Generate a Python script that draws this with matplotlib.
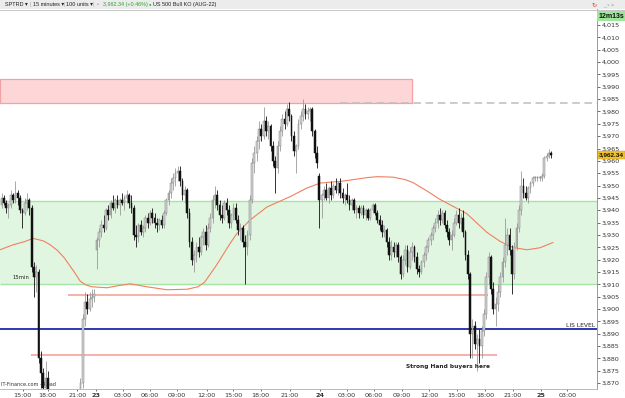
import numpy as np
import matplotlib.pyplot as plt
from matplotlib.patches import Rectangle

# 15 minute candles, SPTRD (US 500), index 0 = first bar on screen
opens = [
    3942, 3945, 3943, 3941, 3942, 3946, 3944, 3947, 3945, 3940, 3939, 3943, 3944, 3941, 3917, 3913, 3915, 3880, 3874, 3868,
    3872, 3866, 3862, 3858, 3855, 3857, 3852, 3850, 3853, 3856, 3854, 3858, 3860, 3857, 3862, 3870, 3896, 3903, 3900, 3904,
    3905, 3924, 3928, 3931, 3934, 3933, 3940, 3938, 3943, 3941, 3944, 3942, 3944, 3943, 3945, 3946, 3943, 3941, 3930, 3929,
    3934, 3931, 3933, 3937, 3935, 3939, 3937, 3935, 3934, 3936, 3934, 3939, 3944, 3947, 3951, 3953, 3955, 3956, 3952, 3946,
    3948, 3939, 3927, 3920, 3922, 3925, 3923, 3929, 3931, 3926, 3933, 3937, 3944, 3946, 3942, 3938, 3937, 3943, 3940, 3935,
    3938, 3941, 3936, 3932, 3933, 3927, 3925, 3930, 3944, 3959, 3963, 3968, 3973, 3970, 3976, 3972, 3974, 3966, 3960, 3957,
    3966, 3972, 3977, 3975, 3981, 3978, 3970, 3964, 3966, 3975, 3978, 3981, 3979, 3980, 3981, 3972, 3963, 3954, 3944, 3946,
    3948, 3945, 3949, 3946, 3950, 3948, 3951, 3947, 3945, 3946, 3944, 3942, 3944, 3940, 3941, 3939, 3941, 3938, 3940, 3937,
    3940, 3942, 3939, 3936, 3934, 3931, 3932, 3927, 3922, 3925, 3923, 3926, 3921, 3914, 3920, 3924, 3917, 3923, 3925, 3921,
    3916, 3915, 3919, 3922, 3925, 3928, 3930, 3933, 3935, 3938, 3936, 3939, 3934, 3931, 3928, 3930, 3935, 3938, 3935, 3937,
    3931, 3922, 3914, 3890, 3893, 3886, 3888, 3885, 3891, 3898, 3913, 3921, 3908, 3900, 3902, 3907, 3913, 3919, 3926, 3930,
    3924, 3914, 3925, 3933, 3940, 3950, 3947, 3945, 3949, 3951, 3953, 3953, 3953, 3953, 3954, 3961, 3962, 3963,
]
highs = [
    3947, 3946, 3944, 3943, 3948, 3947, 3952, 3948, 3946, 3941, 3945, 3947, 3945, 3942, 3919, 3918, 3916, 3883, 3876, 3879,
    3875, 3867, 3863, 3860, 3860, 3858, 3855, 3856, 3860, 3859, 3862, 3864, 3862, 3865, 3872, 3898, 3907, 3906, 3907, 3908,
    3908, 3929, 3933, 3936, 3938, 3941, 3942, 3944, 3946, 3945, 3946, 3945, 3947, 3946, 3948, 3947, 3946, 3942, 3934, 3935,
    3936, 3934, 3938, 3939, 3940, 3941, 3939, 3937, 3937, 3938, 3940, 3945, 3948, 3953, 3955, 3957, 3958, 3958, 3953, 3950,
    3949, 3941, 3929, 3924, 3927, 3929, 3930, 3933, 3934, 3935, 3939, 3946, 3950, 3948, 3944, 3942, 3944, 3945, 3942, 3939,
    3943, 3943, 3938, 3935, 3934, 3930, 3932, 3946, 3961, 3966, 3970, 3976, 3975, 3982, 3978, 3976, 3975, 3968, 3962, 3968,
    3974, 3979, 3980, 3983, 3984, 3979, 3972, 3967, 3977, 3980, 3985, 3983, 3982, 3982, 3982, 3973, 3966, 3955, 3947, 3950,
    3951, 3950, 3952, 3951, 3953, 3952, 3953, 3949, 3947, 3951, 3946, 3945, 3945, 3942, 3942, 3942, 3942, 3941, 3941, 3941,
    3943, 3943, 3940, 3938, 3936, 3934, 3933, 3929, 3928, 3927, 3927, 3927, 3922, 3922, 3926, 3926, 3925, 3927, 3926, 3923,
    3918, 3920, 3923, 3926, 3929, 3931, 3934, 3937, 3940, 3941, 3940, 3940, 3936, 3933, 3932, 3937, 3940, 3941, 3939, 3940,
    3932, 3924, 3915, 3896, 3895, 3890, 3892, 3893, 3900, 3915, 3923, 3922, 3911, 3905, 3910, 3915, 3921, 3937, 3933, 3933,
    3926, 3927, 3935, 3942, 3956, 3953, 3950, 3950, 3952, 3954, 3954, 3954, 3954, 3955, 3962, 3963, 3965, 3964,
]
lows = [
    3941, 3942, 3939, 3937, 3941, 3943, 3943, 3942, 3939, 3933, 3938, 3940, 3938, 3915, 3905, 3907, 3878, 3868, 3862, 3864,
    3860, 3858, 3854, 3851, 3852, 3848, 3846, 3849, 3852, 3850, 3853, 3856, 3853, 3855, 3855, 3868, 3893, 3898, 3899, 3901,
    3903, 3916, 3925, 3929, 3931, 3932, 3936, 3937, 3940, 3939, 3941, 3938, 3942, 3940, 3943, 3941, 3939, 3928, 3925, 3927,
    3930, 3929, 3931, 3933, 3934, 3935, 3933, 3931, 3932, 3933, 3933, 3938, 3942, 3945, 3948, 3950, 3952, 3950, 3944, 3943,
    3937, 3925, 3918, 3915, 3919, 3921, 3922, 3926, 3924, 3925, 3931, 3935, 3941, 3940, 3936, 3935, 3936, 3938, 3933, 3933,
    3936, 3935, 3930, 3928, 3925, 3910, 3922, 3928, 3943, 3955, 3960, 3965, 3968, 3969, 3970, 3969, 3964, 3958, 3947, 3955,
    3964, 3970, 3973, 3974, 3976, 3968, 3962, 3955, 3965, 3973, 3976, 3977, 3977, 3976, 3970, 3961, 3957, 3933, 3937, 3944,
    3944, 3943, 3944, 3945, 3947, 3946, 3945, 3943, 3942, 3943, 3940, 3940, 3939, 3937, 3937, 3938, 3937, 3936, 3936, 3936,
    3939, 3938, 3935, 3932, 3929, 3929, 3925, 3920, 3920, 3921, 3921, 3919, 3912, 3913, 3918, 3915, 3916, 3920, 3919, 3914,
    3913, 3914, 3917, 3920, 3923, 3926, 3928, 3931, 3933, 3934, 3935, 3933, 3929, 3926, 3924, 3929, 3934, 3933, 3932, 3929,
    3920, 3912, 3880, 3880, 3884, 3875, 3878, 3880, 3889, 3896, 3910, 3906, 3898, 3893, 3899, 3905, 3911, 3917, 3922, 3922,
    3906, 3912, 3924, 3931, 3938, 3945, 3944, 3943, 3947, 3950, 3952, 3952, 3952, 3952, 3953, 3960, 3961, 3961,
]
closes = [
    3945, 3943, 3941, 3942, 3946, 3944, 3947, 3945, 3940, 3939, 3943, 3944, 3941, 3917, 3913, 3915, 3880, 3874, 3868, 3872,
    3866, 3862, 3858, 3855, 3857, 3852, 3850, 3853, 3856, 3854, 3858, 3860, 3857, 3862, 3870, 3896, 3903, 3900, 3904, 3905,
    3906, 3928, 3931, 3934, 3933, 3940, 3938, 3943, 3941, 3944, 3942, 3944, 3943, 3945, 3946, 3943, 3941, 3930, 3929, 3934,
    3931, 3933, 3937, 3935, 3939, 3937, 3935, 3934, 3936, 3934, 3939, 3944, 3947, 3951, 3953, 3955, 3956, 3952, 3946, 3948,
    3939, 3927, 3920, 3922, 3925, 3923, 3929, 3931, 3926, 3933, 3937, 3944, 3946, 3942, 3938, 3937, 3943, 3940, 3935, 3938,
    3941, 3936, 3932, 3933, 3927, 3925, 3930, 3944, 3959, 3963, 3968, 3973, 3970, 3976, 3972, 3974, 3966, 3960, 3957, 3966,
    3972, 3977, 3975, 3981, 3978, 3970, 3964, 3966, 3975, 3978, 3981, 3979, 3980, 3981, 3972, 3963, 3959, 3944, 3946, 3948,
    3945, 3949, 3946, 3950, 3948, 3951, 3947, 3945, 3946, 3944, 3942, 3944, 3940, 3941, 3939, 3941, 3938, 3940, 3937, 3940,
    3942, 3939, 3936, 3934, 3931, 3932, 3927, 3922, 3925, 3923, 3926, 3921, 3914, 3920, 3924, 3917, 3923, 3925, 3921, 3916,
    3915, 3919, 3922, 3925, 3928, 3930, 3933, 3935, 3938, 3936, 3939, 3934, 3931, 3928, 3930, 3935, 3938, 3935, 3937, 3931,
    3922, 3914, 3890, 3893, 3886, 3888, 3885, 3891, 3898, 3913, 3921, 3908, 3900, 3902, 3907, 3913, 3919, 3926, 3930, 3924,
    3914, 3925, 3933, 3940, 3950, 3947, 3945, 3949, 3951, 3953, 3953, 3953, 3953, 3954, 3961, 3962, 3963, 3962.34,
]

# moving average, read at a few bars
ma_x = [-0.6, 5, 10, 13.6, 18, 21, 24, 27, 31.5, 34, 36.5, 39, 45.5, 50, 55.4, 62.7, 71.3, 80, 84.7, 87.5,
        92.5, 98.5, 101.5, 107.1, 114.4, 124.4, 131.7, 137.3, 147.2, 157.5, 161.9, 168.8, 174, 177.4,
        183.4, 189, 194.6, 200.6, 206.3, 209.3, 214.9, 220.5, 226.5, 232.1, 237.7]
ma_y = [3924.0, 3926.0, 3927.3, 3928.6, 3927.6, 3926.0, 3923.8, 3920.8, 3914.8, 3911.2, 3909.7, 3909.0, 3908.6,
        3909.4, 3910.2, 3909.0, 3907.8, 3908.0, 3909.0, 3910.8, 3917.5, 3926.5, 3930.6, 3936.0, 3941.3, 3945.5,
        3949.0, 3951.0, 3951.8, 3953.2, 3953.6, 3953.4, 3952.4, 3951.2, 3947.8, 3944.4, 3941.6, 3938.6, 3933.6,
        3931.0, 3927.4, 3924.9, 3924.0, 3924.8, 3926.9]

# drawn levels
supply_zone = (3983.3, 3993.1)
demand_zone = (3910.2, 3943.9)
dashed_level = 3983.3
lis_level = 3891.9
level_a = 3905.5
level_b = 3881.3
last_price = 3962.34

tick_pos = [9.1, 19.9, 32.7, 40.7, 52.4, 64.0, 75.5, 88.4, 99.8, 111.7, 124.4, 137.3,
            148.8, 160.6, 172.5, 184.3, 196.2, 208.4, 220.3, 232.4, 243.9]
tick_lab = ['15:00', '18:00', '21:00', '23', '03:00', '06:00', '09:00', '12:00', '15:00', '18:00', '21:00', '24',
            '03:00', '06:00', '09:00', '12:00', '15:00', '18:00', '21:00', '25', '03:00']

assert len(opens) == len(highs) == len(lows) == len(closes)

W, H = 625, 398
NARROW = ['Liberation Sans', 'DejaVu Sans']
fig = plt.figure(figsize=(W / 100, H / 100), dpi=100)
ax = fig.add_axes([0, 9 / H, 597 / W, 380 / H])
x0, x1 = -0.65, 256.7
ax.set_xlim(x0, x1)
ax.set_ylim(3867.6, 4021.5)

# zones and levels
ax.add_patch(Rectangle((x0, demand_zone[0]), x1 - x0, demand_zone[1] - demand_zone[0],
                       fc='#e1f6e1', ec='none', zorder=0))
ax.hlines(demand_zone, x0, x1, colors='#a6e3a6', lw=1.0, zorder=1)
ax.add_patch(Rectangle((x0, supply_zone[0]), 177.5, supply_zone[1] - supply_zone[0],
                       fc='#fdd7d7', ec='#f2a2a2', lw=0.9, zorder=1))
ax.hlines(dashed_level, 146, x1, colors='#bdbdbd', linestyles=(0, (5, 3)), lw=1.1, zorder=1)
ax.hlines(level_a, 28.7, 209.7, colors='#f4a49c', lw=1.2, zorder=1)
ax.hlines(level_b, 12.7, 213.8, colors='#f4a49c', lw=1.2, zorder=1)
ax.hlines(lis_level, x0, x1, colors='#0c16a0', lw=1.2, zorder=2)
ax.plot(ma_x, ma_y, color='#f0805f', lw=0.8, zorder=2, solid_joinstyle='round')

# candles
o = np.array(opens, dtype=float)
h = np.array(highs, dtype=float)
l = np.array(lows, dtype=float)
c = np.array(closes, dtype=float)
x = np.arange(len(c))
up = c >= o
dn = ~up
bottom = np.minimum(o, c)
height = np.maximum(np.abs(c - o), 0.35)
ax.vlines(x[up], l[up], h[up], colors='#9a9a9a', lw=0.6, zorder=3)
ax.vlines(x[dn], l[dn], h[dn], colors='#111111', lw=0.6, zorder=3)
ax.bar(x[up], height[up], bottom=bottom[up], width=0.75, color='#d2d2d2',
       edgecolor='#808080', lw=0.35, zorder=4)
ax.bar(x[dn], height[dn], bottom=bottom[dn], width=0.75, color='#111111',
       edgecolor='#111111', lw=0.35, zorder=4)

# annotations
ax.text(8.4, 3912.6, '15min', fontsize=3.8, ha='center', va='center', color='#222')
ax.text(x1 - 0.8, lis_level + 0.6, 'LIS LEVEL', fontsize=4.3, ha='right', va='bottom', color='#222')
ax.text(192.5, 3876.9, 'Strong Hand buyers here', fontsize=4.2, ha='center', va='center',
        color='#222', weight='bold')
ax.text(0.002, 0.004, 'IT-Finance.com - Read', transform=ax.transAxes, fontsize=3.6,
        ha='left', va='bottom', color='#333')

# axes look
for s in ['top', 'left']:
    ax.spines[s].set_visible(False)
ax.spines['right'].set_color('#8a8a8a')
ax.spines['bottom'].set_color('#b0b0b0')
ax.spines['right'].set_linewidth(0.6)
ax.spines['bottom'].set_linewidth(0.6)

yt = np.arange(3870, 4016, 5)
ax.yaxis.tick_right()
ax.set_yticks(yt)
ax.set_yticklabels([f'{v:,}' for v in yt])
ax.tick_params(axis='y', labelsize=4.6, length=2, width=0.5, pad=1.5, colors='#333')
ax.set_xticks(tick_pos)
ax.set_xticklabels(tick_lab)
for t in ax.get_xticklabels():
    if len(t.get_text()) == 2:
        t.set_fontweight('bold')
ax.tick_params(axis='x', labelsize=4.6, length=1.5, width=0.5, pad=1.2, colors='#333')

ax.text(1.003, last_price, '3,962.34', transform=ax.get_yaxis_transform(), ha='left', va='center',
        fontsize=4.6, weight='bold', color='#111', clip_on=False, zorder=6, family=NARROW,
        bbox=dict(fc='#f2c22e', ec='#c89a10', lw=0.3, pad=0.8))

# top toolbar
fig.add_artist(Rectangle((0, 1 - 9 / H), 1, 9 / H, transform=fig.transFigure,
                         fc='#ececec', ec='none'))
fig.add_artist(plt.Line2D([0, 1], [1 - 9.5 / H, 1 - 9.5 / H], transform=fig.transFigure,
                          color='#bcbcbc', lw=0.6))
ty = 1 - 4.6 / H
bar_items = [
    (5, 'SPTRD ▾', '#222', 4.0),
    (30, '|', '#aaa', 4.0),
    (33, '15 minutes ▾', '#222', 4.0),
    (63, '|', '#aaa', 4.0),
    (66, '100 units ▾', '#222', 4.0),
    (93, '|', '#aaa', 4.0),
    (97, '▫', '#888', 4.0),
    (103, '3,962.34 (+0.46%)', '#2f9e2f', 3.9),
    (148.5, '●', '#2f9e2f', 3.0),
    (153, 'US 500 Bull KO (AUG-22)', '#222', 4.0),
    (592, '↻', '#d04a3a', 4.6),
    (603, '_ ▫ ×', '#999', 4.0),
]
for px, txt, col, fs in bar_items:
    fig.text(px / W, ty, txt, fontsize=fs, va='center', color=col, family=NARROW)

fig.text(611 / W, 1 - 16 / H, '12m13s', fontsize=5.0, weight='bold', ha='center', va='center',
         color='#111', family=NARROW, bbox=dict(fc='#9fe59a', ec='none', pad=1.0))

fig.savefig('out.png', dpi=100)
